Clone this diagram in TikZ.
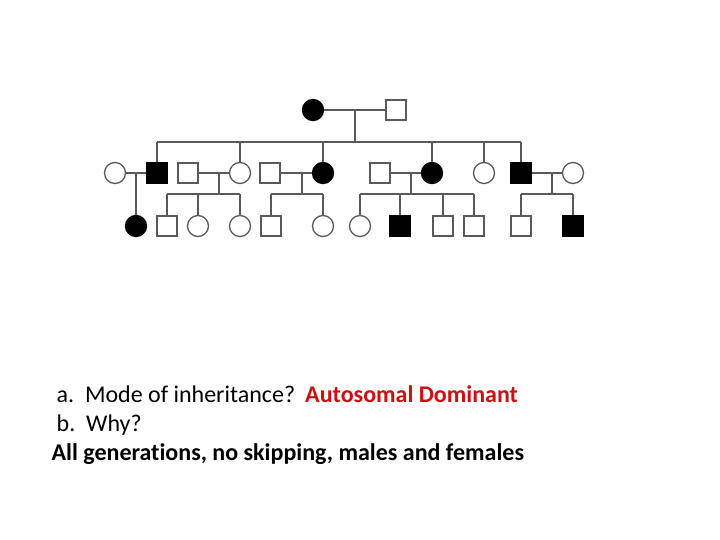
\documentclass[tikz,border=0pt]{standalone}
\usepackage{fontspec}
\setmainfont{Carlito}[Ligatures={NoCommon}]
\usepackage{tikz}

\definecolor{lineg}{RGB}{90,90,90}
\definecolor{ansred}{RGB}{204,16,16}

\begin{document}
\begin{tikzpicture}[x=1pt,y=-1pt,line width=1.3pt,
  male/.style={draw=lineg,rectangle,minimum size=20pt,inner sep=0pt,fill=white},
  female/.style={draw=lineg,circle,minimum size=21pt,inner sep=0pt,fill=white},
  amale/.style={male,fill=black,draw=black},
  afemale/.style={female,fill=black,draw=black},
  txt/.style={anchor=base west,inner sep=0pt,font=\fontsize{24}{28}\selectfont}]
\useasboundingbox (0,0) rectangle (720,540);

% generation I
\node[afemale] (I1) at (313,110) {};
\node[male] (I2) at (396,110) {};

% generation II
\node[female] (II1) at (115,173) {};
\node[amale] (II2) at (157,173) {};
\node[male] (II3) at (188,173) {};
\node[female] (II4) at (240,173) {};
\node[male] (II5) at (270,173) {};
\node[afemale] (II6) at (323,173) {};
\node[male] (II7) at (380,173) {};
\node[afemale] (II8) at (432,173) {};
\node[female] (II9) at (484,173) {};
\node[amale] (II10) at (521,173) {};
\node[female] (II11) at (573,173) {};

% generation III
\node[afemale] (III1) at (136,226) {};
\node[male] (III2) at (167,226) {};
\node[female] (III3) at (198,226) {};
\node[female] (III4) at (240,226) {};
\node[male] (III5) at (271,226) {};
\node[female] (III6) at (323,226) {};
\node[female] (III7) at (360,226) {};
\node[amale] (III8) at (400,226) {};
\node[male] (III9) at (443,226) {};
\node[male] (III10) at (474,226) {};
\node[male] (III11) at (521,226) {};
\node[amale] (III12) at (573,226) {};

\begin{scope}[draw=lineg]
% marriages
\draw (I1) -- (I2);
\draw (II1) -- (II2);
\draw (II3) -- (II4);
\draw (II5) -- (II6);
\draw (II7) -- (II8);
\draw (II10) -- (II11);

% descent lines
\coordinate (m0) at (355,110); \coordinate (s0) at (355,142);
\coordinate (m1) at (136,173);
\coordinate (m2) at (219,173); \coordinate (s2) at (219,194);
\coordinate (m3) at (302,173); \coordinate (s3) at (302,194);
\coordinate (m4) at (411,173); \coordinate (s4) at (411,194);
\coordinate (m5) at (552,173); \coordinate (s5) at (552,194);
\draw (m0) -- (s0);
\draw (m1) -- (III1);
\draw (m2) -- (s2);
\draw (m3) -- (s3);
\draw (m4) -- (s4);
\draw (m5) -- (s5);

% sibships
\draw (II2 |- s0) -- (II10 |- s0);
\foreach \c in {II2,II4,II6,II8,II9,II10}
  \draw (\c) -- (\c |- s0);
\draw (III2 |- s2) -- (III4 |- s2);
\foreach \c in {III2,III3,III4}
  \draw (\c) -- (\c |- s2);
\draw (III5 |- s3) -- (III6 |- s3);
\foreach \c in {III5,III6}
  \draw (\c) -- (\c |- s3);
\draw (III7 |- s4) -- (III10 |- s4);
\foreach \c in {III7,III8,III9,III10}
  \draw (\c) -- (\c |- s4);
\draw (III11 |- s5) -- (III12 |- s5);
\foreach \c in {III11,III12}
  \draw (\c) -- (\c |- s5);
\end{scope}

% question
\node[txt] (qa) at (56,402)
  {a.\ \ Mode of inheritance?\hspace{10pt}\textcolor{ansred}{\bfseries Autosomal Dominant}};
\node[txt] (qb) at (56,431) {b.\ \ Why?};
\node[txt,font=\fontsize{24}{28}\selectfont\bfseries] (ans) at (51,460)
  {All generations, no skipping, males and females};
\end{tikzpicture}
\end{document}
